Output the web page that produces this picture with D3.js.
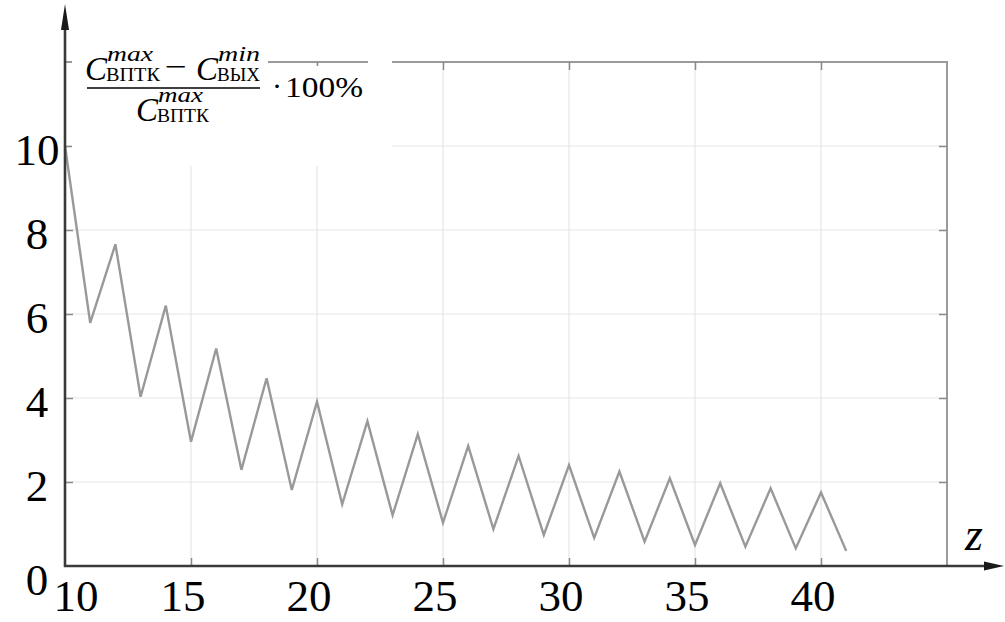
<!DOCTYPE html>
<html>
<head>
<meta charset="utf-8">
<script src="https://cdn.jsdelivr.net/npm/d3@7"></script>
<style>
  html, body { margin: 0; padding: 0; background: #fff; }
  svg { display: block; }
  text { font-family: "Liberation Serif", "DejaVu Serif", serif; fill: #000; }
</style>
</head>
<body>
<svg id="chart" width="1005" height="622"></svg>
<script>
// Number of teeth z
const zValues = [10, 11, 12, 13, 14, 15, 16, 17, 18, 19, 20, 21, 22, 23, 24, 25,
                 26, 27, 28, 29, 30, 31, 32, 33, 34, 35, 36, 37, 38, 39, 40, 41];
// Relative variation, %
const variation = [10, 5.79, 7.66, 4.03, 6.20, 2.96, 5.18, 2.29, 4.47, 1.81,
                   3.91, 1.47, 3.45, 1.21, 3.14, 1.03, 2.86, 0.88, 2.62, 0.74,
                   2.40, 0.67, 2.25, 0.58, 2.09, 0.50, 1.97, 0.46, 1.85, 0.42,
                   1.75, 0.36];
const xTicks = [10, 15, 20, 25, 30, 35, 40];
const yTicks = [0, 2, 4, 6, 8, 10];
const xGrid = [15, 20, 25, 30, 35, 40];
const yGrid = [2, 4, 6, 8, 10];

const svg = d3.select("#chart");
const x = d3.scaleLinear().domain([10, 45]).range([65, 947]);
const y = d3.scaleLinear().domain([0, 12]).range([566, 62]);

// grid
const grid = svg.append("g").attr("stroke", "#e6e6e6").attr("stroke-width", 1.2);
grid.selectAll("line.v").data(xGrid).join("line")
  .attr("x1", d => x(d)).attr("x2", d => x(d))
  .attr("y1", y(0)).attr("y2", y(12));
grid.selectAll("line.h").data(yGrid).join("line")
  .attr("x1", x(10)).attr("x2", x(45))
  .attr("y1", d => y(d)).attr("y2", d => y(d));

// frame (top and right)
svg.append("path")
  .attr("d", `M${x(10)},${y(12)}H${x(45)}V${y(0)}`)
  .attr("fill", "none").attr("stroke", "#9a9a9a").attr("stroke-width", 2);

// inner ticks on all four sides
const tickColor = "#8a8a8a";
function innerTicks(axis, tx, ty, values) {
  svg.append("g").attr("transform", `translate(${tx},${ty})`)
    .call(axis.tickValues(values).tickSizeInner(-8).tickSizeOuter(0).tickFormat(""))
    .call(g => g.select(".domain").remove())
    .call(g => g.selectAll("line").attr("stroke", tickColor).attr("stroke-width", 1.5));
}
innerTicks(d3.axisTop(x), 0, y(12), xGrid);
innerTicks(d3.axisBottom(x), 0, y(0), xGrid);
innerTicks(d3.axisLeft(y), x(10), 0, yGrid);
innerTicks(d3.axisRight(y), x(45), 0, yGrid);

// data line
const line = d3.line().x((d, i) => x(zValues[i])).y(d => y(d));
svg.append("path")
  .datum(variation)
  .attr("d", line)
  .attr("fill", "none")
  .attr("stroke", "#999999")
  .attr("stroke-width", 2.4)
  .attr("stroke-linejoin", "miter");

// white panel behind the formula
svg.append("path")
  .attr("d", "M72,20H268V66H368V20H392V166H72Z")
  .attr("fill", "#fff");

// main axes with arrows
const axisColor = "#3a3a3a";
svg.append("line")
  .attr("x1", x(10)).attr("x2", x(10)).attr("y1", y(0) + 1).attr("y2", 24)
  .attr("stroke", axisColor).attr("stroke-width", 2.6);
svg.append("path")
  .attr("d", `M${x(10)},4L${x(10) - 4},30L${x(10) + 4},30Z`)
  .attr("fill", "#1a1a1a");
svg.append("line")
  .attr("x1", x(10) - 1).attr("x2", 988).attr("y1", y(0)).attr("y2", y(0))
  .attr("stroke", axisColor).attr("stroke-width", 2.6);
svg.append("path")
  .attr("d", `M1004,${y(0)}L984,${y(0) - 4.5}L984,${y(0) + 4.5}Z`)
  .attr("fill", "#1a1a1a");

// tick labels
const labelSize = 45;
svg.append("g").selectAll("text").data(xTicks).join("text")
  .attr("x", d => x(d) + (d === 10 ? 11 : -8))
  .attr("y", 611)
  .attr("text-anchor", "middle")
  .attr("font-size", labelSize)
  .text(d => d);
svg.append("g").selectAll("text").data(yTicks).join("text")
  .attr("x", 37)
  .attr("y", d => d === 0 ? 595 : y(d) + 19)
  .attr("text-anchor", "middle")
  .attr("font-size", labelSize)
  .text(d => d);

// axis name
svg.append("text")
  .attr("x", 965).attr("y", 550)
  .attr("font-size", 46).attr("font-style", "italic")
  .text("z");

// formula: (C_ВПТК^max − C_ВЫХ^min) / C_ВПТК^max · 100%
const f = svg.append("g");
function term(cx, baseY, sup, sub, supW, subW) {
  f.append("text").attr("x", cx).attr("y", baseY)
    .attr("font-size", 33).attr("font-style", "italic").text("C");
  f.append("text").attr("x", cx + 22).attr("y", baseY - 19)
    .attr("font-size", 21).attr("font-style", "italic")
    .attr("textLength", supW).attr("lengthAdjust", "spacingAndGlyphs").text(sup);
  f.append("text").attr("x", cx + 21).attr("y", baseY + 1)
    .attr("font-size", 19)
    .attr("textLength", subW).attr("lengthAdjust", "spacingAndGlyphs").text(sub);
}
term(85, 80, "max", "ВПТК", 46, 54);
f.append("text").attr("x", 165).attr("y", 76).attr("font-size", 28)
  .attr("textLength", 22).attr("lengthAdjust", "spacingAndGlyphs").text("−");
term(196, 80, "min", "ВЫХ", 42, 43);
f.append("line").attr("x1", 87).attr("x2", 260).attr("y1", 88).attr("y2", 88)
  .attr("stroke", "#000").attr("stroke-width", 1.6);
term(136, 121, "max", "ВПТК", 45, 52);
f.append("text").attr("x", 272).attr("y", 96).attr("font-size", 30).text("·");
f.append("text").attr("x", 285).attr("y", 97).attr("font-size", 30)
  .attr("textLength", 78).attr("lengthAdjust", "spacingAndGlyphs").text("100%");
</script>
</body>
</html>
